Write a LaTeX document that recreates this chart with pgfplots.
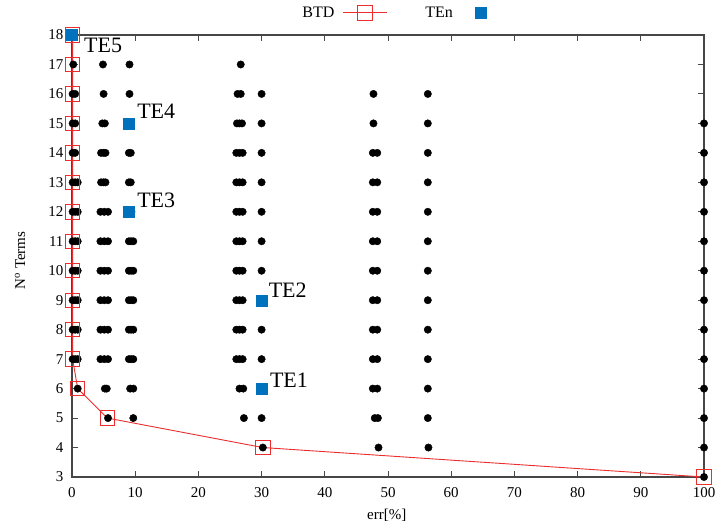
\documentclass[border=0pt]{standalone}
\usepackage{fontspec}
\setmainfont{Liberation Serif}
\usepackage{pgfplots}
\pgfplotsset{compat=1.18}
\definecolor{btdred}{RGB}{235,45,45}
\definecolor{teblue}{RGB}{0,114,189}
\definecolor{bordergray}{RGB}{70,70,70}

% all evaluated expansions: error versus number of terms
\pgfplotstableread{
x y
0.2 17
0.1 16
0.5 16
0.1 15
0.5 15
0.1 14
0.5 14
0.1 13
0.5 13
0.9 13
0.1 12
0.5 12
0.9 12
0.1 11
0.5 11
0.9 11
0.1 10
0.5 10
0.9 10
0.1 9
0.5 9
0.9 9
0.1 8
0.5 8
0.9 8
0.1 7
0.5 7
0.9 7
0.9 6
4.9 17
5.0 16
4.8 15
5.2 15
4.6 14
5.0 14
5.3 14
4.6 13
5.0 13
5.3 13
4.5 12
5.1 12
5.7 12
4.5 11
5.1 11
5.7 11
4.5 10
5.1 10
5.7 10
4.5 9
5.1 9
5.7 9
4.5 8
5.1 8
5.7 8
4.5 7
5.1 7
5.7 7
5.2 6
5.5 6
5.7 5
9.1 17
9.1 16
9.1 15
9.0 14
9.3 14
9.0 13
9.3 13
9.1 12
9.4 12
9.0 11
9.35 11
9.7 11
9.0 10
9.35 10
9.7 10
9.0 9
9.35 9
9.7 9
9.0 8
9.35 8
9.7 8
9.0 7
9.35 7
9.7 7
9.2 6
9.7 6
9.7 5
26.7 17
26.2 16
26.7 16
26.1 15
26.5 15
26.9 15
26.0 14
26.5 14
27.0 14
26.0 13
26.5 13
27.0 13
26.0 12
26.5 12
27.0 12
26.0 11
26.5 11
27.0 11
26.0 10
26.5 10
27.0 10
26.0 9
26.5 9
27.0 9
26.0 8
26.5 8
27.0 8
26.0 7
26.5 7
27.0 7
26.5 6
27.1 6
27.2 5
30.0 16
30.0 15
30.0 14
30.0 13
30.0 12
30.0 11
30.0 10
30.0 9
30.0 8
30.0 7
30.0 6
30.0 5
30.2 4
47.7 16
47.7 15
47.6 14
48.3 14
47.6 13
48.3 13
47.6 12
48.3 12
47.6 11
48.3 11
47.6 10
48.3 10
47.6 9
48.3 9
47.6 8
48.3 8
47.6 7
48.3 7
47.6 6
48.3 6
47.9 5
48.4 5
48.5 4
56.3 16
56.3 15
56.3 14
56.3 13
56.3 12
56.3 11
56.3 10
56.3 9
56.3 8
56.3 7
56.3 6
56.3 5
56.4 4
100 15
100 14
100 13
100 12
100 11
100 10
100 9
100 8
100 7
100 6
100 5
100 4
100 3
}\alldata

% best-trade-off front
\pgfplotstableread{
x y
0.1 18
0.1 17
0.1 16
0.1 15
0.1 14
0.1 13
0.1 12
0.1 11
0.1 10
0.1 9
0.1 8
0.1 7
0.9 6
5.6 5
30.2 4
100 3
}\btddata

% selected expansions TE1..TE5
\pgfplotstableread{
x y
30.0 6
30.0 9
9.0 12
9.0 15
0.0 18
}\tedata

\pgfplotsset{
  btd legend/.style={legend image code/.code={%
    \draw[mark repeat=2,mark phase=2,##1] plot coordinates {(0pt,0pt)(22pt,0pt)(44pt,0pt)};}},
  ten legend/.style={legend image code/.code={%
    \path[draw=none,fill=none] (0pt,0pt) rectangle (40pt,0.1pt);
    \draw[mark repeat=2,mark phase=2,##1] plot coordinates {(0pt,0pt)(20pt,0pt)(40pt,0pt)};}},
}

\begin{document}
\begin{tikzpicture}
\useasboundingbox (-72pt,-54pt) rectangle (645pt,477pt);
\begin{axis}[
  at={(0,0)}, anchor=south west,
  scale only axis, width=632pt, height=442pt,
  xmin=0, xmax=100, ymin=3, ymax=18,
  xtick={0,10,...,100}, ytick={3,4,...,18},
  tick align=inside,
  major tick length=6pt,
  clip=false,
  axis line style={draw=bordergray, line width=1.4pt},
  every tick/.style={draw=bordergray, line width=0.9pt},
  /pgf/number format/assume math mode=true,
  tick label style={font=\rmfamily\fontsize{15}{17}\selectfont},
  xticklabel style={yshift=-7pt},
  yticklabel style={xshift=-5pt},
  xlabel={err[\%]},
  ylabel={N\textsuperscript{o} Terms},
  every axis x label/.style={at={(axis description cs:0.498,-0.087)}, anchor=center, font=\fontsize{15}{17}\selectfont},
  every axis y label/.style={at={(axis description cs:-0.082,0.49)}, anchor=center, rotate=90, font=\fontsize{15}{17}\selectfont},
  legend plot pos=right,
  legend columns=2,
  legend style={at={(axis description cs:0.52,1.05)}, anchor=center,
    draw=none, fill=none, font=\fontsize{16}{18}\selectfont,
    /tikz/every odd column/.append style={column sep=6pt},
    /tikz/every even column/.append style={column sep=36pt}},
]
\addplot[only marks, mark=*, mark size=3.7pt, black, forget plot] table {\alldata};

\addplot[color=btdred, line width=0.9pt, mark=square, mark size=7.2pt,
  mark options={line width=0.9pt}, btd legend]
  table {\btddata};
\addlegendentry{BTD}

\addplot[only marks, mark=square*, mark size=5.5pt, color=teblue,
  mark options={draw=teblue, fill=teblue}, ten legend]
  table {\tedata};
\addlegendentry{TEn}

\node[anchor=base west, font=\fontsize{22}{24}\selectfont, inner sep=0pt] at (axis cs:31.3,6.05) {TE1};
\node[anchor=base west, font=\fontsize{22}{24}\selectfont, inner sep=0pt] at (axis cs:31.1,9.1) {TE2};
\node[anchor=base west, font=\fontsize{22}{24}\selectfont, inner sep=0pt] at (axis cs:10.3,12.13) {TE3};
\node[anchor=base west, font=\fontsize{22}{24}\selectfont, inner sep=0pt] at (axis cs:10.3,15.18) {TE4};
\node[anchor=base west, font=\fontsize{22}{24}\selectfont, inner sep=0pt] at (axis cs:1.9,17.42) {TE5};
\end{axis}
\end{tikzpicture}
\end{document}
